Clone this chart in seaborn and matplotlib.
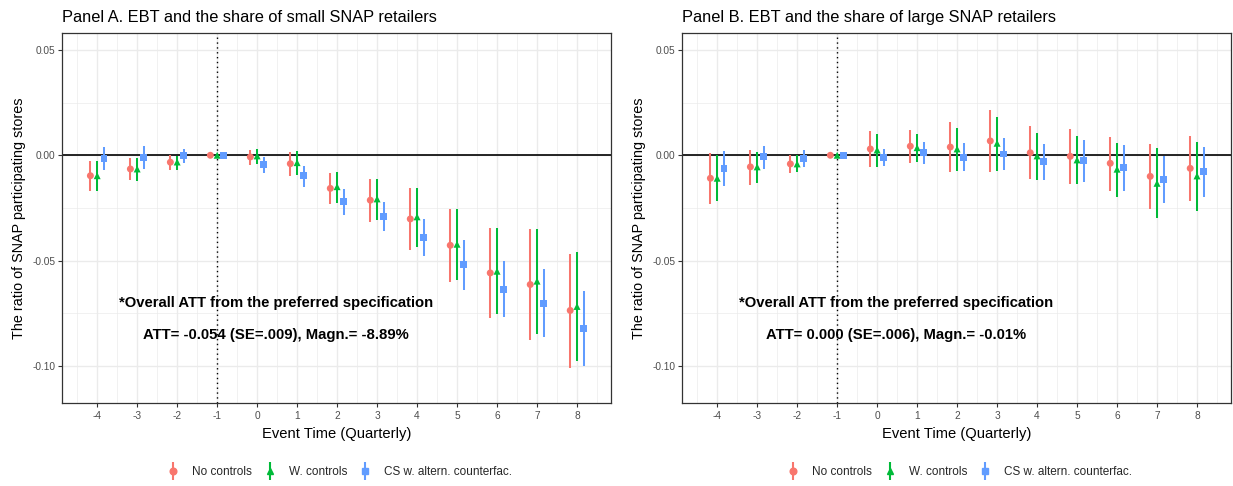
import numpy as np
import pandas as pd
import matplotlib
matplotlib.use("Agg")
import matplotlib.pyplot as plt
from matplotlib.lines import Line2D
from matplotlib.legend_handler import HandlerTuple
from matplotlib.ticker import MultipleLocator
import seaborn as sns

# ---------------- data ----------------
events = [-4, -3, -2, -1, 0, 1, 2, 3, 4, 5, 6, 7, 8]
models = ["No controls", "W. controls", "CS w. altern. counterfac."]

# Panel A: small retailers
a_nc_est = [-0.0097, -0.0065, -0.0033, 0.0, -0.0008, -0.0040, -0.0157, -0.0213, -0.0302, -0.0427, -0.0558, -0.0613, -0.0736]
a_nc_lo = [-0.0169, -0.0119, -0.0068, 0.0, -0.0044, -0.0097, -0.0232, -0.0315, -0.0450, -0.0602, -0.0774, -0.0874, -0.1007]
a_nc_hi = [-0.0027, -0.0011, 0.0001, 0.0, 0.0025, 0.0017, -0.0084, -0.0114, -0.0155, -0.0254, -0.0345, -0.0351, -0.0466]

a_wc_est = [-0.0097, -0.0065, -0.0032, 0.0, -0.0003, -0.0035, -0.0149, -0.0207, -0.0292, -0.0422, -0.0550, -0.0597, -0.0717]
a_wc_lo = [-0.0168, -0.0120, -0.0068, 0.0, -0.0040, -0.0095, -0.0224, -0.0307, -0.0435, -0.0590, -0.0755, -0.0847, -0.0978]
a_wc_hi = [-0.0027, -0.0014, -0.0002, 0.0, 0.0031, 0.0020, -0.0081, -0.0114, -0.0155, -0.0257, -0.0346, -0.0351, -0.0460]

a_cs_est = [-0.0014, -0.0011, -0.0002, 0.0, -0.0044, -0.0098, -0.0220, -0.0291, -0.0390, -0.0518, -0.0635, -0.0701, -0.0820]
a_cs_lo = [-0.0071, -0.0065, -0.0035, 0.0, -0.0082, -0.0149, -0.0283, -0.0360, -0.0480, -0.0637, -0.0768, -0.0861, -0.0999]
a_cs_hi = [0.0041, 0.0043, 0.0030, 0.0, -0.0006, -0.0051, -0.0161, -0.0223, -0.0300, -0.0400, -0.0502, -0.0540, -0.0643]

# Panel B: large retailers
b_nc_est = [-0.0109, -0.0055, -0.0041, 0.0, 0.0030, 0.0043, 0.0039, 0.0068, 0.0012, -0.0005, -0.0038, -0.0100, -0.0062]
b_nc_lo = [-0.0231, -0.0139, -0.0084, 0.0, -0.0054, -0.0035, -0.0078, -0.0078, -0.0114, -0.0135, -0.0168, -0.0254, -0.0215]
b_nc_hi = [0.0012, 0.0025, 0.0000, 0.0, 0.0114, 0.0118, 0.0156, 0.0215, 0.0139, 0.0123, 0.0088, 0.0055, 0.0091]

b_wc_est = [-0.0109, -0.0055, -0.0041, 0.0, 0.0025, 0.0036, 0.0030, 0.0057, -0.0003, -0.0022, -0.0066, -0.0133, -0.0098]
b_wc_lo = [-0.0218, -0.0130, -0.0081, 0.0, -0.0054, -0.0033, -0.0073, -0.0073, -0.0118, -0.0138, -0.0196, -0.0299, -0.0262]
b_wc_hi = [0.0000, 0.0017, 0.0000, 0.0, 0.0101, 0.0102, 0.0130, 0.0182, 0.0106, 0.0091, 0.0060, 0.0033, 0.0062]

b_cs_est = [-0.0062, -0.0008, -0.0016, 0.0, -0.0010, 0.0012, -0.0010, 0.0006, -0.0030, -0.0027, -0.0060, -0.0114, -0.0079]
b_cs_lo = [-0.0144, -0.0063, -0.0057, 0.0, -0.0052, -0.0041, -0.0076, -0.0068, -0.0116, -0.0127, -0.0168, -0.0225, -0.0199]
b_cs_hi = [0.0020, 0.0046, 0.0025, 0.0, 0.0030, 0.0063, 0.0057, 0.0080, 0.0055, 0.0072, 0.0047, -0.0003, 0.0039]

titles = ["Panel A. EBT and the share of small SNAP retailers",
          "Panel B. EBT and the share of large SNAP retailers"]
note_line1 = "*Overall ATT from the preferred specification"
notes_line2 = ["ATT= -0.054 (SE=.009), Magn.= -8.89%",
               "ATT= 0.000 (SE=.006), Magn.= -0.01%"]
xlabel = "Event Time (Quarterly)"
ylabel = "The ratio of SNAP participating stores"
yticks = [-0.10, -0.05, 0.00, 0.05]
ytick_labels = ["-0.10", "-0.05", "0.00", "0.05"]

# ---------------- styling ----------------
sns.set_theme(style="white")
plt.rcParams["font.family"] = ["Liberation Sans", "DejaVu Sans"]

palette = {"No controls": "#F8766D", "W. controls": "#00BA38",
           "CS w. altern. counterfac.": "#619CFF"}
markers = {"No controls": "o", "W. controls": "^", "CS w. altern. counterfac.": "s"}
offsets = {"No controls": -0.17, "W. controls": 0.0, "CS w. altern. counterfac.": 0.17}


def build(est_lists):
    rows = []
    for m, (est, lo, hi) in zip(models, est_lists):
        for e, v, l, h in zip(events, est, lo, hi):
            rows.append({"event": e, "model": m, "est": v, "lo": l, "hi": h,
                         "xpos": e + offsets[m]})
    return pd.DataFrame(rows)


dfA = build([(a_nc_est, a_nc_lo, a_nc_hi), (a_wc_est, a_wc_lo, a_wc_hi),
             (a_cs_est, a_cs_lo, a_cs_hi)])
dfB = build([(b_nc_est, b_nc_lo, b_nc_hi), (b_wc_est, b_wc_lo, b_wc_hi),
             (b_cs_est, b_cs_lo, b_cs_hi)])

W, H = 1233, 486
fig = plt.figure(figsize=(W / 100, H / 100), dpi=100)
axA = fig.add_axes([62 / W, 1 - 403 / H, (611 - 62) / W, (403 - 33) / H])
axB = fig.add_axes([682 / W, 1 - 403 / H, (1231 - 682) / W, (403 - 33) / H])

grid_col = "#EBEBEB"
text_col = "#4D4D4D"

for ax, df, title, note2 in [(axA, dfA, titles[0], notes_line2[0]),
                             (axB, dfB, titles[1], notes_line2[1])]:
    ax.set_xlim(-4.88, 8.85)
    ax.set_ylim(-0.1175, 0.058)
    ax.set_xticks(events)
    ax.set_xticklabels([str(e) for e in events])
    ax.xaxis.set_minor_locator(MultipleLocator(0.5))
    ax.set_yticks(yticks)
    ax.set_yticklabels(ytick_labels)
    ax.yaxis.set_minor_locator(MultipleLocator(0.025))
    ax.grid(True, which="major", color=grid_col, linewidth=1.0, zorder=0)
    ax.grid(True, which="minor", color=grid_col, linewidth=0.5, zorder=0)
    ax.set_axisbelow(True)
    ax.tick_params(axis="both", which="major", length=3, width=0.8, color="#333333",
                   labelsize=7.3, labelcolor=text_col, pad=3, direction="out",
                   bottom=True, left=True)
    ax.tick_params(axis="y", which="major", pad=1.5)
    ax.tick_params(axis="both", which="minor", length=0)
    for s in ax.spines.values():
        s.set_edgecolor("#333333")
        s.set_linewidth(0.9)

    ax.axhline(0, color="black", linewidth=1.2, zorder=1)
    ax.axvline(-1, color="black", linewidth=1.0, linestyle=(0, (1, 2.5)), zorder=1)

    for m in models:
        d = df[df["model"] == m]
        ax.vlines(d["xpos"], d["lo"], d["hi"], colors=palette[m], linewidth=1.45, zorder=2)

    sns.scatterplot(data=df, x="xpos", y="est", hue="model", style="model",
                    palette=palette, markers=markers, hue_order=models,
                    style_order=models, s=25, linewidth=0, ax=ax, legend=False,
                    zorder=3)

    ax.set_xlabel(xlabel, fontsize=10.6, color="black", labelpad=4)
    ax.set_ylabel(ylabel, fontsize=10.4, color="black", labelpad=5)
    ax.set_title(title, loc="left", fontsize=11.8, color="black", pad=8)

    ax.text(0.47, -0.0701, note_line1, ha="center", va="center", fontsize=10.7,
            fontweight="bold", color="black")
    ax.text(0.47, -0.0852, note2, ha="center", va="center", fontsize=10.7,
            fontweight="bold", color="black")

    handles = []
    for m in models:
        vline = Line2D([], [], color=palette[m], marker="|", linestyle="None",
                       markersize=13, markeredgewidth=1.5)
        pt = Line2D([], [], color=palette[m], marker=markers[m], linestyle="None",
                    markersize=4.8)
        handles.append((vline, pt))
    pos = ax.get_position()
    fig.legend(handles, models,
               handler_map={tuple: HandlerTuple(ndivide=1, pad=0)},
               loc="center", bbox_to_anchor=((pos.x0 + pos.x1) / 2 + 3 / W, 1 - 472 / H),
               ncol=3, frameon=False, fontsize=8.5, handlelength=1.0,
               columnspacing=1.05, handletextpad=1.1)

fig.savefig("out.png", dpi=100)
